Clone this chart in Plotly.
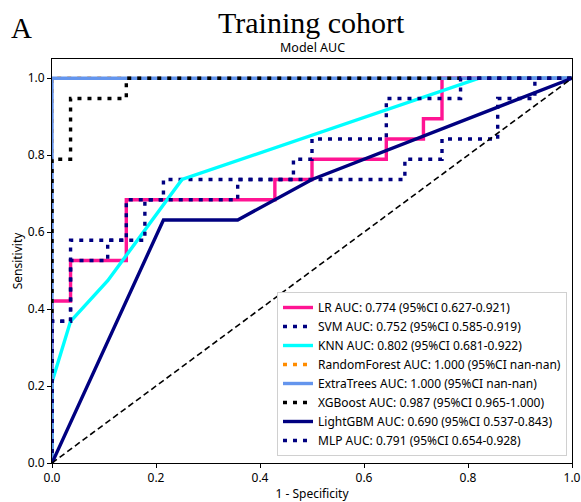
import plotly.graph_objects as go

# ---- data ----
lr_fpr = [0, 0, 0.0357, 0.0357, 0.1429, 0.1429, 0.4286, 0.4286, 0.5, 0.5, 0.6429, 0.6429, 0.7143, 0.7143, 0.75, 0.75, 1]
lr_tpr = [0, 0.4211, 0.4211, 0.5263, 0.5263, 0.6842, 0.6842, 0.7368, 0.7368, 0.7895, 0.7895, 0.8421, 0.8421, 0.8947, 0.8947, 1, 1]

svm_fpr = [0, 0, 0.0357, 0.0357, 0.1429, 0.1429, 0.2143, 0.2143, 0.6786, 0.6786, 0.75, 0.75, 0.8571, 0.8571, 0.9286, 0.9286, 1]
svm_tpr = [0, 0.3684, 0.3684, 0.5789, 0.5789, 0.6842, 0.6842, 0.7368, 0.7368, 0.7895, 0.7895, 0.8421, 0.8421, 0.9474, 0.9474, 1, 1]

knn_fpr = [0, 0, 0.0357, 0.1071, 0.25, 0.8214, 1]
knn_tpr = [0, 0.2105, 0.3684, 0.4737, 0.7368, 1, 1]

rf_fpr = [0, 0, 1]
rf_tpr = [0, 1, 1]

et_fpr = [0, 0, 1]
et_tpr = [0, 1, 1]

xgb_fpr = [0, 0, 0.0357, 0.0357, 0.1429, 0.1429, 1]
xgb_tpr = [0, 0.7895, 0.7895, 0.9474, 0.9474, 1, 1]

lgbm_fpr = [0, 0.2143, 0.3571, 0.5, 1]
lgbm_tpr = [0, 0.6316, 0.6316, 0.7368, 1]

mlp_fpr = [0, 0, 0.0357, 0.0357, 0.1071, 0.1071, 0.1786, 0.1786, 0.3571, 0.3571, 0.4643, 0.4643, 0.5, 0.5, 0.6429, 0.6429, 0.7857, 0.7857, 1]
mlp_tpr = [0, 0.3684, 0.3684, 0.5263, 0.5263, 0.5789, 0.5789, 0.6842, 0.6842, 0.7368, 0.7368, 0.7895, 0.7895, 0.8421, 0.8421, 0.9474, 0.9474, 1, 1]

labels = [
    "LR AUC: 0.774 (95%CI 0.627-0.921)",
    "SVM AUC: 0.752 (95%CI 0.585-0.919)",
    "KNN AUC: 0.802 (95%CI 0.681-0.922)",
    "RandomForest AUC: 1.000 (95%CI nan-nan)",
    "ExtraTrees AUC: 1.000 (95%CI nan-nan)",
    "XGBoost AUC: 0.987 (95%CI 0.965-1.000)",
    "LightGBM AUC: 0.690 (95%CI 0.537-0.843)",
    "MLP AUC: 0.791 (95%CI 0.654-0.928)",
]
series_x = [lr_fpr, svm_fpr, knn_fpr, rf_fpr, et_fpr, xgb_fpr, lgbm_fpr, mlp_fpr]
series_y = [lr_tpr, svm_tpr, knn_tpr, rf_tpr, et_tpr, xgb_tpr, lgbm_tpr, mlp_tpr]
colors = ["#FF1493", "#000080", "#00FFFF", "#FF8C00", "#6495ED", "#000000", "#000080", "#000080"]
dashes = ["solid", "4px,6px", "solid", "4px,6px", "solid", "4px,6px", "solid", "4px,6px"]

tick_vals = [0, 0.2, 0.4, 0.6, 0.8, 1.0]
tick_text = ["0.0", "0.2", "0.4", "0.6", "0.8", "1.0"]

fig = go.Figure()
for xs, ys, lab, col, dsh in zip(series_x, series_y, labels, colors, dashes):
    fig.add_trace(go.Scatter(x=xs, y=ys, mode="lines", name=lab,
                             line=dict(color=col, width=3.4, dash=dsh)))

fig.add_trace(go.Scatter(x=[0, 1], y=[0, 1], mode="lines", showlegend=False,
                         line=dict(color="black", width=1.6, dash="6px,3.5px")))

# plot area geometry (pixels)
L, T, R, B = 52, 59, 572, 463
PW, PH = R - L, B - T


def px(x):
    return (x - L) / PW


def py(y):
    return (B - y) / PH


sans = "Noto Sans"
serif = "Liberation Serif"
fig.update_layout(
    width=581, height=502,
    margin=dict(l=L, r=581 - R, t=T, b=502 - B),
    paper_bgcolor="white", plot_bgcolor="white",
    font=dict(family=sans, size=12, color="black"),
    showlegend=True,
    legend=dict(x=px(567), y=py(456), xanchor="right", yanchor="bottom",
                bgcolor="white", bordercolor="#d0d0d0", borderwidth=1,
                font=dict(family=sans, size=12, color="black"),
                tracegroupgap=0),
    xaxis=dict(range=[0, 1], tickvals=tick_vals, ticktext=tick_text,
               showgrid=False, zeroline=False, showline=True, linecolor="black",
               linewidth=1, mirror=True, ticks="outside", ticklen=4,
               tickcolor="black", tickfont=dict(size=12), automargin=False,
               title=dict(text="1 - Specificity", font=dict(size=12), standoff=5)),
    yaxis=dict(range=[0, 1.05], tickvals=tick_vals, ticktext=tick_text,
               showgrid=False, zeroline=False, showline=True, linecolor="black",
               linewidth=1, mirror=True, ticks="outside", ticklen=4,
               tickcolor="black", tickfont=dict(size=12), automargin=False,
               title=dict(text="Sensitivity", font=dict(size=12), standoff=2)),
    annotations=[
        dict(text="Training cohort", x=px(311), y=py(23), xref="paper", yref="paper",
             xanchor="center", yanchor="middle", showarrow=False,
             font=dict(family=serif, size=30)),
        dict(text="A", x=px(21), y=py(28), xref="paper", yref="paper",
             xanchor="center", yanchor="middle", showarrow=False,
             font=dict(family=serif, size=29)),
        dict(text="Model AUC", x=px(312), y=py(48), xref="paper", yref="paper",
             xanchor="center", yanchor="middle", showarrow=False,
             font=dict(family=sans, size=12.5)),
    ],
)

fig.write_html("out.html")
